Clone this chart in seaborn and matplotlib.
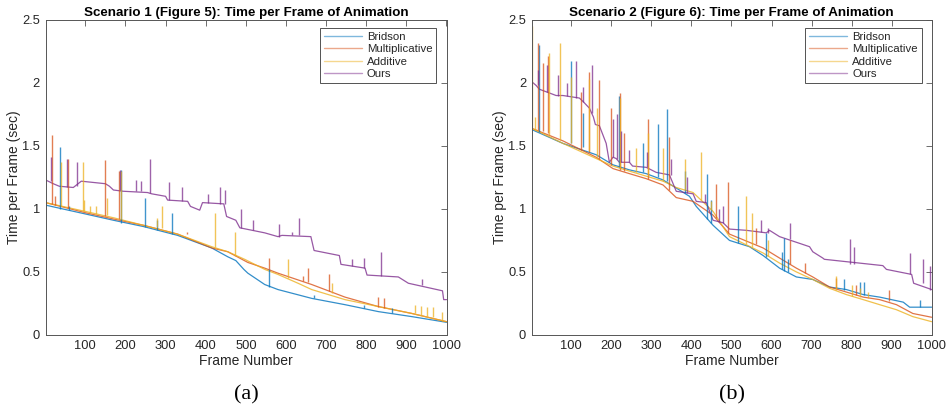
import pandas as pd
import seaborn as sns
import matplotlib
matplotlib.use("Agg")
from matplotlib import pyplot as plt

methods = ["Bridson", "Multiplicative", "Additive", "Ours"]
colors = ["#0072BD", "#D95319", "#EDB120", "#7E2F8E"]
titles = ["Scenario 1 (Figure 5): Time per Frame of Animation",
          "Scenario 2 (Figure 6): Time per Frame of Animation"]
panel_tags = ["(a)", "(b)"]
x_ticks = [100, 200, 300, 400, 500, 600, 700, 800, 900, 1000]
y_ticks = [0, 0.5, 1, 1.5, 2, 2.5]
y_tick_labels = ["0", "0.5", "1", "1.5", "2", "2.5"]

# ---- Scenario 1: base curve knots (frame, seconds) ----
s1_bridson_f = [1, 100, 170, 245, 330, 415, 455, 475, 495, 505, 547, 580, 664, 747, 830, 914, 1000]
s1_bridson_v = [1.03, 0.96, 0.91, 0.86, 0.79, 0.69, 0.62, 0.59, 0.52, 0.49, 0.40, 0.36, 0.29, 0.24, 0.185, 0.145, 0.10]
s1_mult_f = [1, 100, 170, 245, 330, 415, 455, 505, 547, 580, 664, 747, 830, 914, 1000]
s1_mult_v = [1.05, 0.97, 0.92, 0.87, 0.80, 0.69, 0.66, 0.575, 0.53, 0.49, 0.40, 0.30, 0.225, 0.17, 0.105]
s1_add_f = [1, 100, 170, 245, 330, 415, 455, 497, 547, 580, 630, 664, 747, 830, 914, 1000]
s1_add_v = [1.05, 0.98, 0.93, 0.87, 0.80, 0.70, 0.66, 0.60, 0.52, 0.48, 0.41, 0.36, 0.28, 0.225, 0.17, 0.105]
s1_ours_f = [1, 20, 35, 70, 90, 150, 160, 170, 195, 255, 265, 300, 305, 355, 362, 385, 392, 445,
             452, 475, 485, 547, 580, 590, 662, 670, 733, 737, 797, 802, 880, 905, 990, 993, 1000]
s1_ours_v = [1.23, 1.20, 1.18, 1.17, 1.22, 1.20, 1.18, 1.15, 1.14, 1.13, 1.12, 1.10, 1.07, 1.06, 1.02, 0.99, 1.05, 1.04,
             0.94, 0.91, 0.85, 0.81, 0.78, 0.79, 0.78, 0.67, 0.63, 0.56, 0.53, 0.475, 0.46, 0.41, 0.35, 0.28, 0.28]

# spikes: (frame, base, peak)
s1_bridson_sp = [(37, 1.00, 1.49), (60, 0.99, 1.02), (188, 0.89, 1.31), (249, 0.86, 1.09), (278, 0.83, 0.91),
                 (315, 0.80, 0.97), (558, 0.38, 0.52), (670, 0.29, 0.32), (795, 0.21, 0.24), (865, 0.17, 0.21)]
s1_mult_sp = [(17, 1.04, 1.59), (25, 1.03, 1.10), (57, 1.01, 1.40), (150, 0.94, 1.39), (183, 0.92, 1.30),
              (354, 0.80, 0.82), (557, 0.52, 0.61), (643, 0.43, 0.47), (654, 0.42, 0.53), (708, 0.35, 0.48),
              (830, 0.22, 0.30), (845, 0.21, 0.29)]
s1_add_sp = [(40, 1.02, 1.37), (93, 0.98, 1.37), (96, 0.98, 1.07), (112, 0.97, 1.02), (126, 0.96, 1.02),
             (155, 0.95, 1.09), (190, 0.92, 1.30), (278, 0.86, 0.93), (290, 0.85, 1.02), (423, 0.70, 0.97),
             (474, 0.63, 0.82), (605, 0.45, 0.60), (714, 0.33, 0.41), (922, 0.17, 0.24), (937, 0.16, 0.23),
             (952, 0.15, 0.22), (967, 0.14, 0.22), (990, 0.11, 0.18)]
s1_ours_sp = [(14, 1.22, 1.41), (55, 1.17, 1.40), (80, 1.18, 1.37), (187, 1.15, 1.31), (227, 1.14, 1.23),
              (238, 1.14, 1.22), (260, 1.13, 1.40), (308, 1.07, 1.21), (342, 1.06, 1.17), (405, 1.05, 1.12),
              (435, 1.04, 1.17), (448, 1.04, 1.15), (489, 0.85, 1.00), (518, 0.83, 0.91), (583, 0.78, 0.88),
              (615, 0.79, 0.82), (632, 0.79, 0.93), (765, 0.55, 0.60), (795, 0.53, 0.61), (837, 0.47, 0.66),
              (939, 0.40, 0.44)]

# ---- Scenario 2 ----
s2_bridson_f = [1, 79, 162, 204, 245, 287, 329, 370, 395, 412, 454, 495, 545, 579, 620, 662, 703, 745, 787,
                829, 870, 929, 945, 1000]
s2_bridson_v = [1.63, 1.52, 1.43, 1.35, 1.31, 1.28, 1.23, 1.15, 1.10, 1.02, 0.87, 0.75, 0.70, 0.63, 0.53, 0.46,
                0.44, 0.38, 0.36, 0.32, 0.30, 0.26, 0.22, 0.22]
s2_mult_f = [1, 79, 162, 204, 245, 287, 329, 362, 404, 454, 495, 579, 620, 662, 703, 745, 787, 829, 870, 912,
             953, 1000]
s2_mult_v = [1.64, 1.54, 1.41, 1.32, 1.28, 1.24, 1.19, 1.09, 1.06, 0.95, 0.80, 0.69, 0.61, 0.53, 0.46, 0.38,
             0.34, 0.30, 0.28, 0.24, 0.17, 0.14]
s2_add_f = [1, 79, 162, 204, 245, 287, 329, 362, 404, 454, 495, 579, 620, 662, 703, 745, 787, 829, 870, 912,
            953, 1000]
s2_add_v = [1.64, 1.52, 1.40, 1.34, 1.30, 1.26, 1.22, 1.17, 1.13, 0.98, 0.78, 0.65, 0.57, 0.50, 0.44, 0.37,
            0.32, 0.28, 0.24, 0.20, 0.145, 0.105]
s2_ours_f = [1, 12, 20, 62, 79, 120, 130, 145, 155, 160, 170, 187, 195, 204, 212, 220, 245, 253, 287, 312, 345,
             362, 404, 412, 437, 454, 479, 495, 537, 587, 595, 620, 695, 703, 728, 732, 878, 887, 950, 955, 1000]
s2_ours_v = [2.01, 1.98, 1.95, 1.90, 1.90, 1.88, 1.85, 1.80, 1.73, 1.67, 1.66, 1.52, 1.37, 1.41, 1.40, 1.37, 1.37,
             1.34, 1.33, 1.29, 1.27, 1.14, 1.12, 1.06, 1.05, 0.91, 0.89, 0.84, 0.83, 0.81, 0.83, 0.78, 0.70, 0.66,
             0.61, 0.60, 0.55, 0.52, 0.48, 0.41, 0.36]

s2_bridson_sp = [(20, 1.61, 2.30), (99, 1.52, 2.17), (128, 1.49, 1.76), (220, 1.33, 1.90), (280, 1.29, 1.52),
                 (316, 1.25, 1.67), (339, 1.22, 1.79), (383, 1.13, 1.30), (439, 0.92, 1.28), (449, 0.89, 1.07),
                 (516, 0.73, 1.02), (587, 0.62, 0.81), (625, 0.52, 0.66), (632, 0.51, 0.77), (640, 0.50, 0.60),
                 (780, 0.36, 0.44), (820, 0.33, 0.42), (830, 0.32, 0.42), (970, 0.22, 0.28)]
s2_mult_sp = [(16, 1.63, 2.32), (28, 1.62, 2.16), (42, 1.60, 2.21), (124, 1.47, 1.93), (145, 1.45, 2.09),
              (168, 1.40, 2.02), (200, 1.35, 1.80), (222, 1.31, 1.92), (232, 1.30, 1.60), (291, 1.24, 1.71),
              (345, 1.15, 1.57), (462, 0.93, 1.20), (492, 0.81, 1.21), (560, 0.72, 0.85), (645, 0.56, 0.75),
              (683, 0.49, 0.57), (760, 0.37, 0.45), (810, 0.32, 0.40), (893, 0.27, 0.36)]
s2_add_sp = [(1, 1.64, 2.45), (8, 1.63, 1.73), (45, 1.59, 2.24), (72, 1.55, 2.32), (100, 1.52, 2.05),
             (145, 1.46, 2.03), (165, 1.41, 1.80), (221, 1.32, 1.88), (262, 1.29, 1.48), (291, 1.26, 1.60),
             (330, 1.22, 1.48), (384, 1.15, 1.40), (425, 1.07, 1.45), (449, 0.99, 1.06), (537, 0.72, 1.10),
             (552, 0.70, 0.97), (590, 0.63, 0.75), (760, 0.36, 0.47), (800, 0.31, 0.40), (820, 0.30, 0.37),
             (840, 0.29, 0.34)]
s2_ours_sp = [(16, 1.98, 2.10), (40, 1.93, 2.14), (67, 1.90, 2.06), (90, 1.90, 2.00), (112, 1.88, 2.17),
              (130, 1.85, 1.97), (151, 1.76, 2.14), (205, 1.41, 1.71), (215, 1.40, 1.75), (225, 1.37, 1.62),
              (245, 1.37, 1.47), (290, 1.33, 1.45), (348, 1.27, 1.40), (390, 1.13, 1.25), (435, 1.05, 1.12),
              (470, 0.90, 1.00), (480, 0.89, 1.02), (573, 0.82, 0.91), (590, 0.81, 0.85), (645, 0.76, 0.89),
              (797, 0.56, 0.76), (805, 0.56, 0.70), (946, 0.48, 0.65), (978, 0.41, 0.60), (995, 0.36, 0.55)]

scenarios = [
    {"base": [(s1_bridson_f, s1_bridson_v), (s1_mult_f, s1_mult_v), (s1_add_f, s1_add_v), (s1_ours_f, s1_ours_v)],
     "spikes": [s1_bridson_sp, s1_mult_sp, s1_add_sp, s1_ours_sp]},
    {"base": [(s2_bridson_f, s2_bridson_v), (s2_mult_f, s2_mult_v), (s2_add_f, s2_add_v), (s2_ours_f, s2_ours_v)],
     "spikes": [s2_bridson_sp, s2_mult_sp, s2_add_sp, s2_ours_sp]},
]

sns.set_theme(style="white")
plt.rcParams['font.family'] = ['Liberation Sans', 'DejaVu Sans']
text_col = "#262626"

fig = plt.figure(figsize=(9.5, 4.15), dpi=100)
axes = [fig.add_axes([0.048, 0.193, 0.422, 0.759]),
        fig.add_axes([0.5597, 0.193, 0.421, 0.759])]

for ax, sc, title, tag in zip(axes, scenarios, titles, panel_tags):
    rows = []
    for name, (fr, vals) in zip(methods, sc["base"]):
        rows.append(pd.DataFrame({"frame": fr, "time": vals, "method": name}))
    df = pd.concat(rows, ignore_index=True)
    sns.lineplot(data=df, x="frame", y="time", hue="method", hue_order=methods,
                 palette=colors, estimator=None, lw=0.9, alpha=0.8, ax=ax)
    for col, sp in zip(colors, sc["spikes"]):
        ax.vlines([s[0] for s in sp], [s[1] for s in sp], [s[2] for s in sp],
                  colors=col, lw=1.0, alpha=0.75)

    ax.set_xlim(1, 1000)
    ax.set_ylim(0, 2.5)
    ax.set_xticks(x_ticks)
    ax.set_yticks(y_ticks)
    ax.set_yticklabels(y_tick_labels)
    ax.tick_params(direction="in", top=True, right=True, length=4, width=0.6,
                   color="#555555", labelsize=9.3, labelcolor=text_col, pad=4)
    for sp_ in ax.spines.values():
        sp_.set_color("#555555")
        sp_.set_linewidth(0.7)
    ax.set_title(title, fontsize=9.6, fontweight="bold", color="black", pad=3)
    ax.set_xlabel("Frame Number", fontsize=10, color=text_col, labelpad=1)
    ax.set_ylabel("Time per Frame (sec)", fontsize=10, color=text_col, labelpad=1)
    leg = ax.legend(loc="upper right", bbox_to_anchor=(0.975, 0.975), borderaxespad=0,
                    fontsize=8.2, frameon=True, fancybox=False, handlelength=3.4,
                    labelspacing=0.22, handletextpad=0.4, borderpad=0.35, title=None)
    leg.get_frame().set_edgecolor("#262626")
    leg.get_frame().set_linewidth(0.7)
    for h in leg.get_lines():
        h.set_linewidth(1.0)
        h.set_alpha(0.5)
    ax.text(0.5, -0.16, tag, transform=ax.transAxes, ha="center", va="top",
            fontsize=16, family=["Liberation Serif", "DejaVu Serif"], color="black")

fig.savefig("out.png", dpi=100)
